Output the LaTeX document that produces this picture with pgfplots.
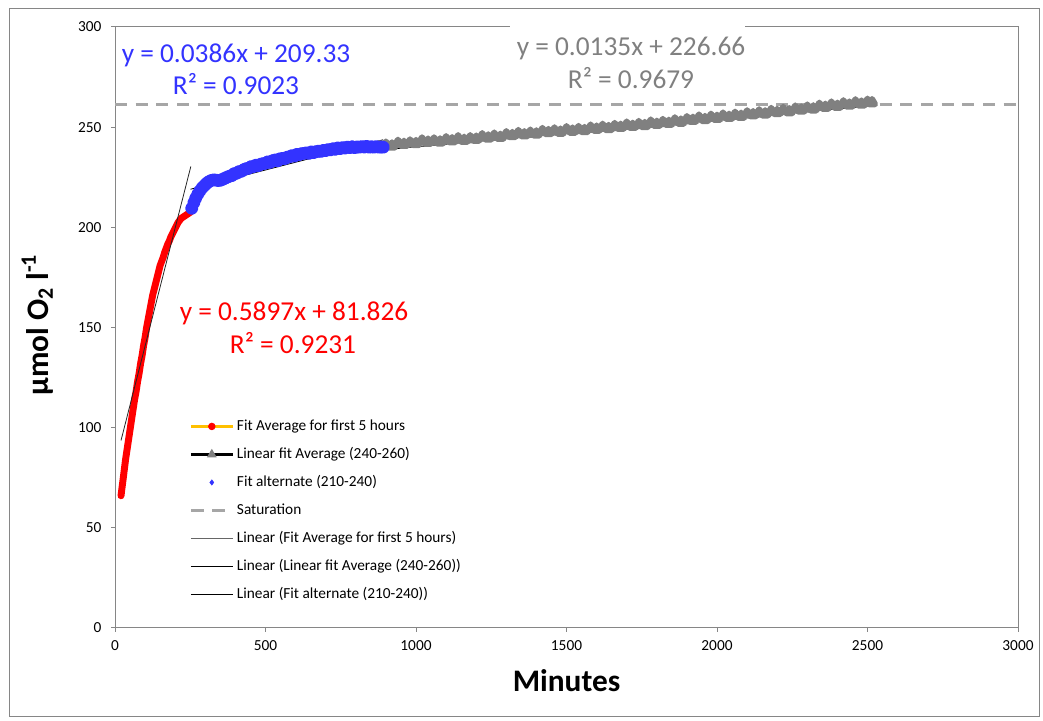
\documentclass[border=0pt]{standalone}
\usepackage{pgfplots}
\usepackage{pgfplotstable}
\pgfplotsset{compat=1.18}
\usepackage{fontspec}
\setmainfont{Carlito}
\definecolor{myred}{RGB}{255,0,0}
\definecolor{myblue}{RGB}{51,51,255}
\definecolor{mygrey}{RGB}{128,128,128}
\definecolor{satgrey}{RGB}{166,166,166}
\definecolor{legorange}{RGB}{255,192,0}
\definecolor{framegrey}{RGB}{134,134,134}

\pgfplotstableread{
x y
20 66
22 68.5
25 72
28 75.5
30 78
33 81.5
35 84
38 87
40 89
43 92
45 94
48 97
50 99
53 102
55 104
58 107
60 109
65 114
70 118
75 123
80 127
85 132
90 136
95 141
100 145
105 150
110 154
115 158
120 162
125 166
130 169
135 172
140 175
145 178
150 181
155 183
160 185
165 187.5
170 189.5
175 191.5
180 193
185 195
190 196.5
195 198
200 199.5
205 201
210 202.5
215 203.5
220 204.5
225 205
230 205.5
235 206
240 206.5
245 207
250 207.5
255 208.5
}\reddata

\pgfplotstableread{
x y
255 209.5
262 212.3
268 214.5
275 216.5
282 218.2
290 219.8
298 221
305 222
312 222.8
320 223.4
328 223.7
335 223.6
342 223.4
350 223.5
358 224
365 224.5
372 225
380 225.5
388 225.8
396 226.8
404 227
412 227.8
420 228
428 228.8
436 229.3
444 229.5
452 230.3
460 230.3
468 231
476 230.8
484 231.5
492 231.8
500 232
508 232.7
516 232.5
524 233.3
532 233.6
540 233.2
548 234.2
556 234.4
564 234.3
572 235
580 235.2
588 235.8
596 235.6
604 236.4
612 236.3
620 236.8
628 236.9
636 237.2
644 236.9
652 237.6
660 237.3
668 237.8
676 238
684 237.9
692 238.4
700 238.3
708 238.8
716 238.7
724 239.2
732 239
740 239.6
748 239.3
756 239.8
764 239.6
772 240
780 239.8
788 240.2
796 239.8
804 240.1
812 240
820 240.3
828 240.1
836 240.4
844 240
852 240.2
860 240
868 240.3
876 240
884 240.1
891 240
}\bluedata

\pgfplotstableread{
x y
880 240.3
900 241.1
920 240.7
940 242.0
960 241.5
980 242.2
1000 241.9
1020 243.2
1040 242.6
1060 243.2
1080 242.7
1100 243.8
1120 243.3
1140 244.3
1160 243.5
1180 244.3
1200 244.1
1220 245.3
1240 244.7
1260 245.6
1280 245.0
1300 246.3
1320 245.9
1340 246.9
1360 246.3
1380 247.1
1400 246.7
1420 247.9
1440 247.4
1460 248.2
1480 247.6
1500 248.8
1520 248.1
1540 248.9
1560 248.4
1580 249.6
1600 249.1
1620 250.0
1640 249.4
1660 250.4
1680 250.0
1700 251.1
1720 250.5
1740 251.4
1760 250.9
1780 252.1
1800 251.5
1820 252.4
1840 252.0
1860 253.2
1880 252.6
1900 253.8
1920 253.5
1940 254.6
1960 253.9
1980 255.0
2000 254.5
2020 255.6
2040 255.0
2060 256.0
2080 255.5
2100 256.7
2120 256.3
2140 257.2
2160 256.7
2180 257.9
2200 257.4
2220 258.4
2240 257.8
2260 259.1
2280 258.6
2300 259.6
2320 259.2
2340 260.5
2360 260.0
2380 261.1
2400 260.5
2420 261.7
2440 261.1
2460 262.2
2480 261.6
2500 262.5
2515 262.3
}\greydata

\begin{document}
\begin{tikzpicture}
\begin{axis}[
  at={(86.25pt,69.75pt)}, anchor=south west,
  scale only axis, width=677.25pt, height=450.75pt,
  xmin=0, xmax=3000, ymin=0, ymax=300,
  xtick={0,500,...,3000}, ytick={0,50,...,300},
  tick align=outside, tick pos=left,
  major tick length=3pt,
  axis line style={framegrey, line width=0.75pt},
  every tick/.style={framegrey, line width=0.75pt},
  tick label style={font=\fontsize{11.5}{13}\selectfont, text=black},
  yticklabel style={inner sep=0pt, xshift=-7pt},
  xticklabel style={inner sep=0pt, yshift=-6pt},
  /pgf/number format/assume math mode=true,
  /pgf/number format/1000 sep={},
  legend cell align=left,
  legend image code/.code={\draw[mark repeat=2,mark phase=2,#1] plot coordinates {(0pt,0pt) (15.75pt,0pt) (31.5pt,0pt)};},
  legend style={at={(axis description cs:0.082,0.348)}, anchor=north west,
    draw=none, fill=none, inner sep=0pt, row sep=10pt, column sep=2pt,
    font=\fontsize{11.5}{13}\selectfont,
    nodes={inner sep=0pt, text height=8.5pt, text depth=2.5pt}},
]
% data
\addplot[forget plot, myred, line width=5.2pt, line join=round, line cap=round] table[x=x,y=y] {\reddata};
\addplot[forget plot, mygrey, line width=4.6pt, line join=round, line cap=round,
  mark=triangle*, mark size=2.6pt, mark options={fill=mygrey, draw=none}] table[x=x,y=y] {\greydata};
\addplot[forget plot, myblue, line width=4.6pt, line join=round, line cap=round,
  mark=*, mark size=2.6pt, mark options={fill=myblue, draw=none}] table[x=x,y=y] {\bluedata};
\addplot[forget plot, satgrey, line width=2.25pt, dash pattern=on 9pt off 6.5pt] coordinates {(0,261.3) (3000,261.3)};
% trendlines
\addplot[forget plot, black!85, line width=0.6pt] coordinates {(20,93.62) (252,230.43)};
\addplot[forget plot, black, line width=0.6pt] coordinates {(800,237.46) (2500,260.41)};
\addplot[forget plot, black, line width=0.6pt] coordinates {(251,219.02) (890,243.68)};
% legend
\addlegendimage{legorange, line width=2.25pt, mark=*, mark size=1.6pt, mark options={fill=myred, draw=myred}}
\addlegendentry{Fit Average for first 5 hours}
\addlegendimage{black, line width=2.25pt, mark=triangle*, mark size=2pt, mark options={fill=mygrey, draw=mygrey}}
\addlegendentry{Linear fit Average (240-260)}
\addlegendimage{only marks, mark=diamond*, mark size=2pt, mark options={fill=myblue, draw=myblue}}
\addlegendentry{Fit alternate (210-240)}
\addlegendimage{satgrey, line width=2.25pt, dash pattern=on 10pt off 6pt}
\addlegendentry{Saturation}
\addlegendimage{black!60, line width=0.6pt}
\addlegendentry{Linear (Fit Average for first 5 hours)}
\addlegendimage{black, line width=0.6pt}
\addlegendentry{Linear (Linear fit Average (240-260))}
\addlegendimage{black, line width=0.6pt}
\addlegendentry{Linear (Fit alternate (210-240))}
\end{axis}
\begin{scope}[x=0.75pt, y=-0.75pt, shift={(0pt,540.75pt)}]
  \fill[white] (510,23) rectangle (745,31);
  \draw[framegrey, line width=0.75pt] (9,9) rectangle (1039,717);
  \begin{scope}[every node/.style={anchor=base, inner sep=0pt, font=\fontsize{20.5}{24}\selectfont}]
    \node[text=myblue] at (236,62.7) {y = 0.0386x + 209.33};
    \node[text=myblue] at (236,95) {R² = 0.9023};
    \node[text=mygrey] at (631,55.5) {y = 0.0135x + 226.66};
    \node[text=mygrey] at (631,88.3) {R² = 0.9679};
    \node[text=myred] at (294,321) {y = 0.5897x + 81.826};
    \node[text=myred] at (293,353.5) {R² = 0.9231};
  \end{scope}
  \node[anchor=base, inner sep=0pt, font=\fontsize{23.5}{28}\bfseries\selectfont] at (566.5,692) {Minutes};
  \node[anchor=base, inner sep=0pt, rotate=90, font=\fontsize{23.5}{28}\bfseries\selectfont] at (48,325) {µmol O\textsubscript{2} l\textsuperscript{-1}};
  \pgfresetboundingbox
  \path (0,0) rectangle (1043,721);
\end{scope}
\end{tikzpicture}
\end{document}
